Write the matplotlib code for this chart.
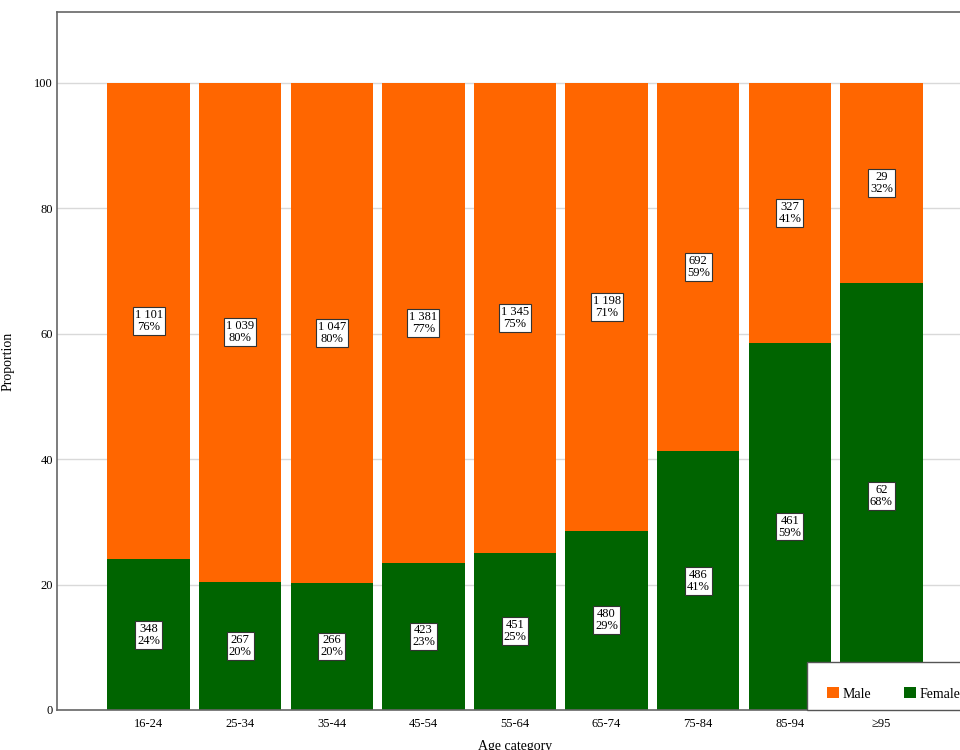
import numpy as np
import matplotlib
matplotlib.use("Agg")
import matplotlib.pyplot as plt
from matplotlib.patches import Patch, Rectangle

plt.rcParams["font.family"] = ["Liberation Serif", "DejaVu Serif"]

# Dados
categorias = ["16-24", "25-34", "35-44", "45-54", "55-64", "65-74", "75-84", "85-94", "≥95"]
n_female = [348, 267, 266, 423, 451, 480, 486, 461, 62]
n_male = [1101, 1039, 1047, 1381, 1345, 1198, 692, 327, 29]

cor_male = "#FF6600"
cor_female = "#006400"


def fmt_n(n):
    # separador de milhar com espaço
    return f"{n:,}".replace(",", " ")


female = np.array(n_female, dtype=float)
male = np.array(n_male, dtype=float)
total = female + male
p_female = female / total * 100
p_male = male / total * 100

W, H = 960, 750
fig = plt.figure(figsize=(9.6, 7.5), dpi=100)
ax = fig.add_axes([57 / W, 40 / H, 916 / W, 698 / H])

x = np.arange(len(categorias))
ax.bar(x, p_female, width=0.9, color=cor_female, zorder=2, label="Female")
ax.bar(x, p_male, width=0.9, bottom=p_female, color=cor_male, zorder=2, label="Male")

# Rótulos dentro das barras
box = dict(boxstyle="square,pad=0.15", facecolor="white", edgecolor="#333333", linewidth=0.8)
for i in range(len(categorias)):
    ax.text(x[i], p_female[i] / 2, f"{fmt_n(n_female[i])}\n{p_female[i]:.0f}%",
            ha="center", va="center", fontsize=9, linespacing=1.0, bbox=box, zorder=3)
    ax.text(x[i], p_female[i] + p_male[i] / 2, f"{fmt_n(n_male[i])}\n{p_male[i]:.0f}%",
            ha="center", va="center", fontsize=9, linespacing=1.0, bbox=box, zorder=3)

# Eixos
ax.set_xlim(-1, 9)
ax.set_ylim(0, 111.3)
ax.set_yticks([0, 20, 40, 60, 80, 100])
ax.set_xticks(x)
ax.set_xticklabels(categorias)
ax.tick_params(axis="both", length=0, labelsize=9)
ax.tick_params(axis="y", pad=3)
ax.tick_params(axis="x", pad=6)
ax.grid(axis="y", color="#D9D9D9", linewidth=1, zorder=0)
ax.set_axisbelow(True)
for s in ax.spines.values():
    s.set_color("#666666")
    s.set_linewidth(1.2)

ax.set_ylabel("Proportion", fontsize=10, labelpad=14)
ax.set_xlabel("Age category", fontsize=10, labelpad=7)

# Caixa da legenda (desenhada à mão, sai pela borda direita)
ax.add_patch(Rectangle((807 / W, 40 / H), 200 / W, 48 / H, transform=fig.transFigure,
                       facecolor="white", edgecolor="#555555", linewidth=1.0,
                       clip_on=False, zorder=4))

handles = [Patch(facecolor=cor_male, label="Male"), Patch(facecolor=cor_female, label="Female")]
leg = ax.legend(handles=handles, loc="center left", bbox_to_anchor=(827 / W, (H - 694) / H),
                bbox_transform=fig.transFigure, borderaxespad=0, borderpad=0,
                ncol=2, fontsize=10, handlelength=0.85, handleheight=0.85, handletextpad=0.25,
                columnspacing=2.4, frameon=False)
leg.set_zorder(5)

fig.savefig("out.png", dpi=100)
